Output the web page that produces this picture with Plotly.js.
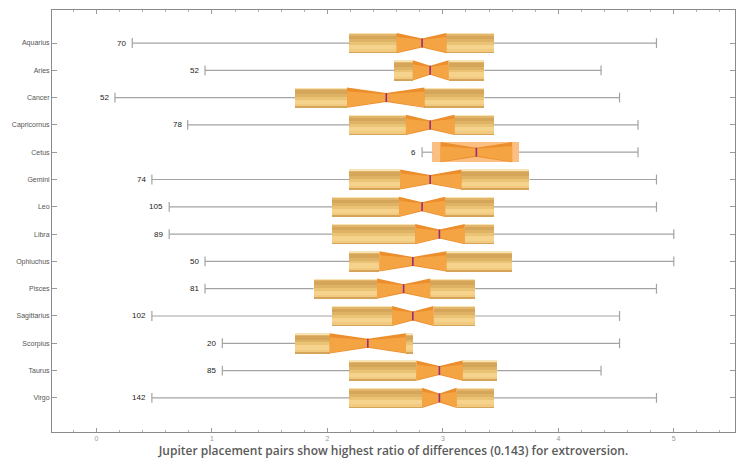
<!DOCTYPE html>
<html>
<head>
<meta charset="utf-8">
<script src="https://cdn.plot.ly/plotly-3.0.1.min.js"></script>
<style>html,body{margin:0;padding:0;background:#fff;}#chart{width:739px;height:461px;}</style>
</head>
<body>
<div id="chart"></div>
<script>
// ---- data ----
const signs = ["Aquarius","Aries","Cancer","Capricornus","Cetus","Gemini","Leo","Libra","Ophiuchus","Pisces","Sagittarius","Scorpius","Taurus","Virgo"];
const counts = [70, 52, 52, 78, 6, 74, 105, 89, 50, 81, 102, 20, 85, 142];
const lowerWhisker = [0.31, 0.94, 0.16, 0.79, 2.82, 0.48, 0.63, 0.63, 0.94, 0.94, 0.48, 1.09, 1.09, 0.48];
const q1Vals       = [2.19, 2.58, 1.72, 2.19, 2.91, 2.19, 2.04, 2.04, 2.19, 1.88, 2.04, 1.72, 2.19, 2.19];
const notchLow     = [2.60, 2.74, 2.17, 2.68, 2.98, 2.63, 2.62, 2.76, 2.45, 2.43, 2.56, 2.02, 2.77, 2.82];
const medians      = [2.82, 2.89, 2.51, 2.89, 3.29, 2.89, 2.82, 2.97, 2.74, 2.66, 2.74, 2.35, 2.97, 2.97];
const notchHigh    = [3.03, 3.05, 2.84, 3.10, 3.60, 3.16, 3.02, 3.19, 3.03, 2.89, 2.92, 2.68, 3.17, 3.12];
const q3Vals       = [3.44, 3.36, 3.36, 3.44, 3.66, 3.75, 3.44, 3.44, 3.60, 3.28, 3.28, 2.74, 3.47, 3.44];
const upperWhisker = [4.85, 4.37, 4.53, 4.69, 4.69, 4.85, 4.85, 5.00, 5.00, 4.85, 4.53, 4.53, 4.37, 4.85];
const xTitle = "Jupiter placement pairs show highest ratio of differences (0.143) for extroversion.";

// ---- drawing ----
const pos = signs.map((_, i) => i);
const H = 0.37;      // half box height (category units)
const HM = 0.165;    // half notch height at the median
const CAP = 0.18;    // half whisker cap height
const small = counts.map(c => c < 10);   // few observations: pale box
const traces = [];

// whiskers (outside the box only, since bars sit beneath scatter lines)
let wx = [], wy = [], cx = [], cy = [];
pos.forEach(i => {
  wx.push(lowerWhisker[i], q1Vals[i], null, q3Vals[i], upperWhisker[i], null);
  wy.push(i, i, null, i, i, null);
  cx.push(lowerWhisker[i], lowerWhisker[i], null, upperWhisker[i], upperWhisker[i], null);
  cy.push(i - CAP, i + CAP, null, i - CAP, i + CAP, null);
});
traces.push({type:'scatter', mode:'lines', x:wx, y:wy, line:{color:'#a3a3a3', width:1.2}, hoverinfo:'skip'});
traces.push({type:'scatter', mode:'lines', x:cx, y:cy, line:{color:'#a3a3a3', width:1.2}, hoverinfo:'skip'});

// pale boxes (small samples)
const pIdx = pos.filter(i => small[i]);
traces.push({type:'bar', orientation:'h', y:pIdx, base:pIdx.map(i => q1Vals[i]),
  x:pIdx.map(i => q3Vals[i] - q1Vals[i]), width:2*H, opacity:1,
  marker:{color:'#fcbf82', opacity:1, line:{width:0}}, hoverinfo:'skip'});

// gold boxes with cylinder-like shading (stripes top -> bottom)
const stripes = [
  [0.00, 0.07, '#f6e3b6'],
  [0.07, 0.14, '#e2b56a'],
  [0.14, 0.32, '#d5a55a'],
  [0.32, 0.46, '#dfb366'],
  [0.46, 0.60, '#ebc375'],
  [0.60, 0.82, '#f6d38d'],
  [0.82, 0.93, '#f1c97f'],
  [0.93, 1.00, '#d4a45a']
];
const gIdx = pos.filter(i => !small[i]);
stripes.forEach(([a, b, col]) => {
  const ys = [], bs = [], xs = [];
  gIdx.forEach(i => {
    ys.push(i); bs.push(q1Vals[i]); xs.push(notchLow[i] - q1Vals[i]);
    ys.push(i); bs.push(notchHigh[i]); xs.push(q3Vals[i] - notchHigh[i]);
  });
  traces.push({type:'bar', orientation:'h', y:ys, base:bs, x:xs,
    width:(b - a) * 2 * H + 0.01, offset:-H + a * 2 * H, opacity:1,
    marker:{color:col, opacity:1, line:{width:0}}, hoverinfo:'skip'});
});

// notches (two layers for shading)
function notchTrace(scaleTop, scaleBot, hmScale, col) {
  const x = [], y = [];
  pos.forEach(i => {
    const t = H * scaleTop, bt = H * scaleBot, m = HM * hmScale;
    x.push(notchLow[i], medians[i], notchHigh[i], notchHigh[i], medians[i], notchLow[i], notchLow[i], null);
    y.push(i - t, i - m, i - t, i + bt, i + m, i + bt, i - t, null);
  });
  return {type:'scatter', mode:'lines', x:x, y:y, fill:'toself', fillcolor:col,
    line:{width:0, color:col}, hoverinfo:'skip'};
}
traces.push(notchTrace(1, 1, 1, '#ec8e2c'));
traces.push(notchTrace(0.6, 0.95, 0.75, '#f5a444'));

// median lines
let mx = [], my = [];
pos.forEach(i => { mx.push(medians[i], medians[i], null); my.push(i - HM, i + HM, null); });
traces.push({type:'scatter', mode:'lines', x:mx, y:my, line:{color:'#9a2b82', width:1.6}, hoverinfo:'skip'});

// counts, placed left of the lower whisker
const countNotes = pos.map(i => ({
  x: lowerWhisker[i], y: i, xref:'x', yref:'y', text: String(counts[i]),
  showarrow:false, xanchor:'right', yanchor:'middle', xshift:-4,
  font:{family:'Liberation Sans, Arial, sans-serif', size:8, color:'#222'}
}));

const layout = {
  width:739, height:461,
  margin:{l:52, r:4, t:10, b:29},
  paper_bgcolor:'#ffffff', plot_bgcolor:'#ffffff',
  showlegend:false, barmode:'overlay', bargap:0,
  annotations: countNotes,
  xaxis:{
    range:[-0.385, 5.53], zeroline:false, showgrid:false,
    showline:true, linecolor:'#8a8a8a', linewidth:1, mirror:'ticks',
    ticks:'inside', ticklen:4, tickcolor:'#9a9a9a', dtick:1, tick0:0,
    minor:{dtick:0.2, ticks:'inside', ticklen:2, tickcolor:'#b0b0b0'},
    tickfont:{family:'Liberation Sans, Arial, sans-serif', size:7, color:'#999'},
    title:{text:xTitle, standoff:5, font:{family:'Open Sans, sans-serif', size:12, weight:600, color:'#5a5a5a'}}
  },
  yaxis:{
    range:[14.25, -1.21], zeroline:false, showgrid:false,
    showline:true, linecolor:'#8a8a8a', linewidth:1, mirror:'ticks',
    tickmode:'array', tickvals:pos, ticktext:signs,
    ticks:'inside', ticklen:5, tickcolor:'#9a9a9a',
    tickfont:{family:'Liberation Sans, Arial, sans-serif', size:7, color:'#555'}
  }
};

Plotly.newPlot('chart', traces, layout, {staticPlot:true, displayModeBar:false});
</script>
</body>
</html>
